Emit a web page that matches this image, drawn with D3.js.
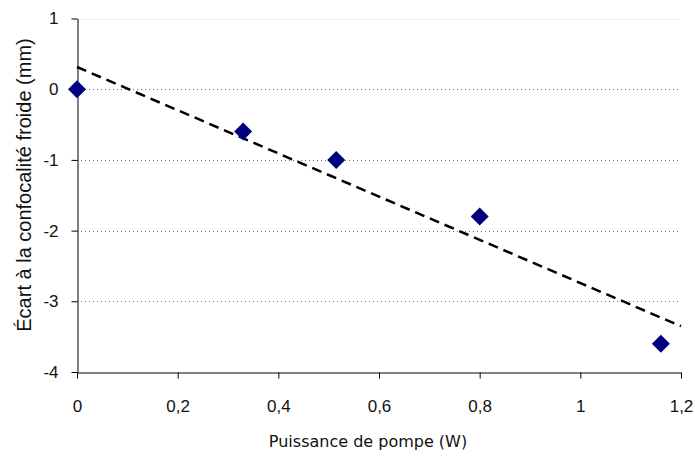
<!DOCTYPE html>
<html>
<head>
<meta charset="utf-8">
<script src="https://cdn.jsdelivr.net/npm/d3@7"></script>
<style>
  body { margin: 0; background: #fff; }
  svg { display: block; }
</style>
</head>
<body>
<svg id="chart" width="695" height="461"></svg>
<script>
const powerW = [0, 0.33, 0.515, 0.8, 1.16];
const offsetMm = [0, -0.6, -1.0, -1.8, -3.6];
const xTicks = [0, 0.2, 0.4, 0.6, 0.8, 1, 1.2];
const yTicks = [1, 0, -1, -2, -3, -4];
const xTitle = "Puissance de pompe (W)";
const yTitle = "Écart à la confocalité froide (mm)";

(function () {
const svg = d3.select("#chart");
const mLeft = 77, mRight = 681, mTop = 18.5, mBottom = 372;
const x = d3.scaleLinear().domain([0, 1.2]).range([mLeft, mRight]);
const y = d3.scaleLinear().domain([-4, 1]).range([mBottom, mTop]);
const fmt = d => String(d).replace(".", ",");

// gridlines
svg.append("g").selectAll("line")
  .data(yTicks.filter(t => t > -4))
  .join("line")
  .attr("x1", mLeft).attr("x2", mRight)
  .attr("y1", d => Math.round(y(d)) + 0.5).attr("y2", d => Math.round(y(d)) + 0.5)
  .attr("stroke", d => d === 1 ? "#c8c8c8" : "#707070")
  .attr("stroke-width", 1)
  .attr("stroke-dasharray", "1,3");

// axes
const xAxis = svg.append("g")
  .attr("transform", `translate(0,${Math.round(y(-4)) + 0.5})`)
  .call(d3.axisBottom(x).tickValues(xTicks).tickFormat(fmt).tickSize(6).tickPadding(21).tickSizeOuter(0));
const yAxis = svg.append("g")
  .attr("transform", `translate(${Math.round(x(0)) + 0.5},0)`)
  .call(d3.axisLeft(y).tickValues(yTicks).tickFormat(d => String(d)).tickSize(6).tickPadding(13).tickSizeOuter(0));
[xAxis, yAxis].forEach(g => {
  g.selectAll("path, line").attr("stroke", "#000");
  g.selectAll("text").attr("fill", "#111").style("font-family", "'Liberation Sans', Arial, sans-serif").style("font-size", "17px");
});

// trend line (least squares fit of the data)
const mx = d3.mean(powerW), my = d3.mean(offsetMm);
const sxy = d3.sum(powerW.map((v, i) => (v - mx) * (offsetMm[i] - my)));
const sxx = d3.sum(powerW.map(v => (v - mx) ** 2));
const slope = sxy / sxx, intercept = my - slope * mx;
const trendX = [0, 1.2];
svg.append("path")
  .datum(trendX)
  .attr("d", d3.line().x(d => x(d)).y(d => y(intercept + slope * d)))
  .attr("fill", "none")
  .attr("stroke", "#000")
  .attr("stroke-width", 2.5)
  .attr("stroke-dasharray", "10,6");

// markers
svg.append("g").selectAll("path")
  .data(powerW.map((v, i) => [v, offsetMm[i]]))
  .join("path")
  .attr("transform", d => `translate(${x(d[0])},${y(d[1])})`)
  .attr("d", "M0,-9L9,0L0,9L-9,0Z")
  .attr("fill", "#000080");

// titles
svg.append("text")
  .attr("x", 368).attr("y", 447)
  .attr("text-anchor", "middle")
  .style("font-family", "'DejaVu Sans', Tahoma, sans-serif")
  .style("font-size", "16px").attr("fill", "#111")
  .text(xTitle);
svg.append("text")
  .attr("transform", `translate(31,185) rotate(-90)`)
  .attr("text-anchor", "middle")
  .style("font-family", "'Liberation Sans', Arial, sans-serif")
  .style("font-size", "20px").attr("fill", "#111")
  .text(yTitle);
})();
</script>
</body>
</html>
